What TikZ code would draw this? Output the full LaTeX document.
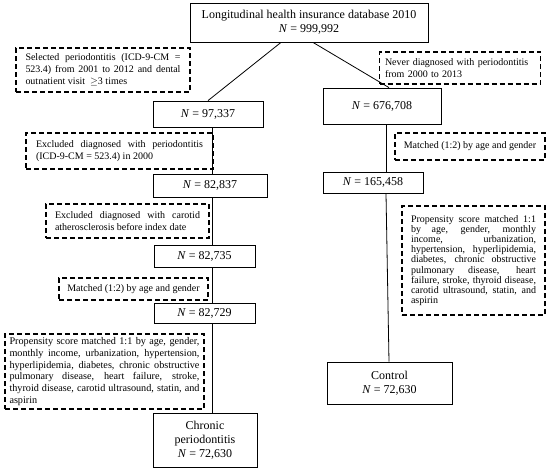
\documentclass[tikz,border=0pt]{standalone}
\usepackage{fontspec}
\setmainfont{Liberation Serif}
\newcommand{\nohyph}{\hyphenpenalty=10000\relax\exhyphenpenalty=10000\relax}
\begin{document}
\begin{tikzpicture}[x=1pt,y=-1pt,
  solidbox/.style={draw, line width=0.8pt, fill=white, align=center, inner sep=2pt,
    font=\fontsize{12}{14}\selectfont},
  dashbox/.style={draw, line width=1.3pt, dash pattern=on 5pt off 3pt, fill=white,
    inner sep=0pt, font=\fontsize{10}{11.8}\selectfont\nohyph},
  conn/.style={line width=0.8pt}]
\useasboundingbox (0,0) rectangle (550,469);
% solid boxes
\node[solidbox, minimum width=238pt, minimum height=39pt] (top) at (309,22.5)
  {Longitudinal health insurance database 2010\\\textit{N} = 999,992};
\node[solidbox, minimum width=110pt, minimum height=26pt] (n97) at (208,114) {\textit{N} = 97,337};
\node[solidbox, minimum width=118pt, minimum height=36pt] (n676) at (382,106) {\textit{N} = 676,708};
\node[solidbox, minimum width=114pt, minimum height=23pt] (n837) at (210,185.5) {\textit{N} = 82,837};
\node[solidbox, minimum width=100pt, minimum height=21pt] (n165) at (373,182.5) {\textit{N} = 165,458};
\node[solidbox, minimum width=101pt, minimum height=22pt] (n735) at (204.5,256) {\textit{N} = 82,735};
\node[solidbox, minimum width=101pt, minimum height=20pt] (n729) at (204.5,313) {\textit{N} = 82,729};
\node[solidbox, minimum width=104pt, minimum height=54pt] (chronic) at (205,440)
  {Chronic\\periodontitis\\\textit{N} = 72,630};
\node[solidbox, minimum width=125pt, minimum height=42pt] (control) at (389.5,383)
  {Control\\\textit{N} = 72,630};
% dashed boxes
\node[dashbox, minimum width=174pt, minimum height=44pt, text width=155pt, align=justify] (sel) at (103,70)
  {Selected periodontitis (ICD-9-CM = 523.4) from 2001 to 2012 and dental outnatient visit ~$\geq$3 times};
\node[dashbox, minimum width=161pt, minimum height=32pt, text width=150pt, align=left] (never) at (460,68)
  {Never diagnosed with periodontitis\\from 2000 to 2013};
\node[dashbox, minimum width=187pt, minimum height=36pt, text width=167pt, align=justify] (excl1) at (119.5,151)
  {Excluded diagnosed with periodontitis (ICD-9-CM = 523.4) in 2000};
\node[dashbox, minimum width=163pt, minimum height=34pt, text width=145pt, align=justify] (excl2) at (127.5,221)
  {Excluded diagnosed with carotid atherosclerosis before index date};
\node[dashbox, minimum width=149pt, minimum height=22pt, align=center] (matchl) at (133.5,289)
  {Matched (1:2) by age and gender};
\node[dashbox, minimum width=150pt, minimum height=27pt, align=center] (matchr) at (470,146.5)
  {Matched (1:2) by age and gender};
\node[dashbox, minimum width=199pt, minimum height=75pt, text width=190pt, align=justify,
  font=\fontsize{10.2}{11.8}\selectfont\nohyph] (propl) at (104.5,371.5)
  {Propensity score matched 1:1 by age, gender, monthly income, urbanization, hypertension, hyperlipidemia, diabetes, chronic obstructive pulmonary disease, heart failure, stroke, thyroid disease, carotid ultrasound, statin, and aspirin};
\node[dashbox, minimum width=143pt, minimum height=109pt, text width=125pt, align=justify,
  font=\fontsize{10}{10.2}\selectfont\nohyph] (propr) at (473.5,260.5)
  {Propensity score matched 1:1 by age, gender, monthly income, urbanization, hypertension, hyperlipidemia, diabetes, chronic obstructive pulmonary disease, heart failure, stroke, thyroid disease, carotid ultrasound, statin, and aspirin};
% connectors
\coordinate (lx) at (212,0);
\coordinate (rx) at (386,0);
\coordinate (cx) at (389,0);
\draw[conn] ([xshift=-28pt]top.south) -- (n97.north);
\draw[conn] ([xshift=4pt]top.south) -- ([xshift=7pt]n676.north);
\draw[conn] (n97.south -| lx) -- (n837.north -| lx);
\draw[conn] (n837.south -| lx) -- (n735.north -| lx);
\draw[conn] (n735.south -| lx) -- (n729.north -| lx);
\draw[conn] (n729.south -| lx) -- (chronic.north -| lx);
\draw[conn] (n676.south -| rx) -- (n165.north -| rx);
\draw[conn] (n165.south -| rx) -- (control.north -| cx);
\end{tikzpicture}
\end{document}
